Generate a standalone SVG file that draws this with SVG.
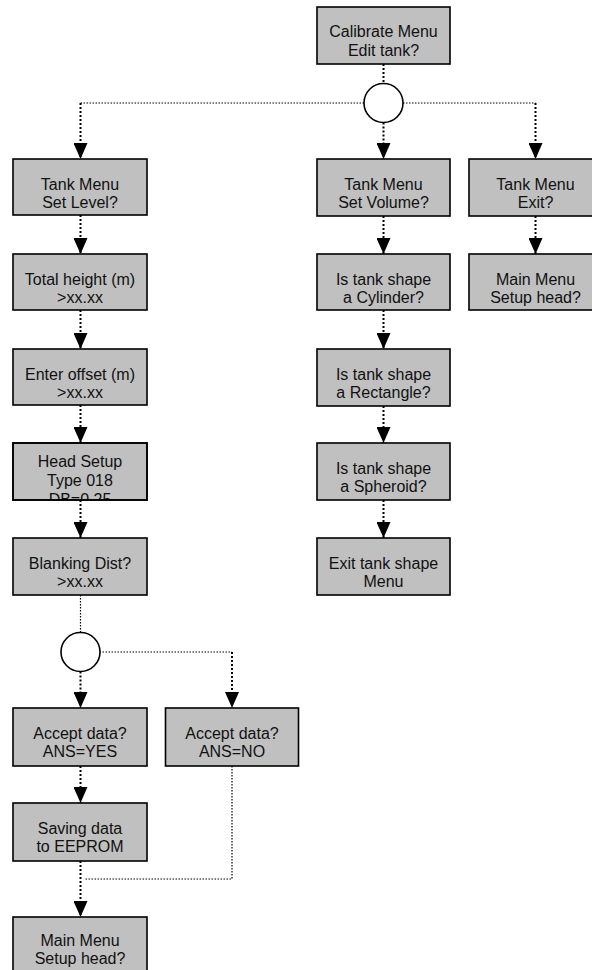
<svg xmlns="http://www.w3.org/2000/svg" width="592" height="970" viewBox="0 0 592 970">
  <defs>
    <style>
      .box { fill: #c0c0c0; stroke: #000; stroke-width: 1.6; }
      .lbl { font-family: "Liberation Sans", Arial, sans-serif; font-size: 16px; fill: #111; text-anchor: middle; }
      .join { fill: #fff; stroke: #000; stroke-width: 1.6; }
      .v { fill: none; stroke: #000; stroke-width: 2; stroke-dasharray: 2 2; }
      .h { fill: none; stroke: #000; stroke-width: 1.2; stroke-dasharray: 1.5 1.5; }
    </style>
    <marker id="arrow" viewBox="0 0 16 14" refX="16" refY="7" markerWidth="16" markerHeight="14" markerUnits="userSpaceOnUse" orient="auto">
      <path d="M0,0 L16,7 L0,14 z" fill="#000"/>
    </marker>
    <clipPath id="clipHead">
      <rect x="13" y="443" width="134" height="57"/>
    </clipPath>
  </defs>

  <!-- connectors -->
  <g id="connectors">
    <!-- top menu to first junction -->
    <path class="v" d="M383.5,64 V83.5"/>
    <path class="v" d="M383.5,122.5 V159" marker-end="url(#arrow)"/>
    <path class="h" d="M364,103 H80.5"/>
    <path class="v" d="M80.5,103 V159" marker-end="url(#arrow)"/>
    <path class="h" d="M403,103 H535.5"/>
    <path class="v" d="M535.5,103 V159" marker-end="url(#arrow)"/>

    <!-- level branch -->
    <path class="v" d="M80.5,215 V254" marker-end="url(#arrow)"/>
    <path class="v" d="M80.5,310 V349" marker-end="url(#arrow)"/>
    <path class="v" d="M80.5,405 V443" marker-end="url(#arrow)"/>
    <path class="v" d="M80.5,500 V538" marker-end="url(#arrow)"/>
    <path class="h" d="M80.5,595 V632.5"/>
    <path class="v" d="M80.5,671.5 V708" marker-end="url(#arrow)"/>
    <path class="h" d="M99.5,652 H232"/>
    <path class="v" d="M232,652 V708" marker-end="url(#arrow)"/>
    <path class="v" d="M80.5,766 V803" marker-end="url(#arrow)"/>
    <path class="h" d="M232,766 V879 H85"/>
    <path class="v" d="M80.5,861 V917" marker-end="url(#arrow)"/>

    <!-- volume branch -->
    <path class="v" d="M383.5,216 V254" marker-end="url(#arrow)"/>
    <path class="v" d="M383.5,310 V349" marker-end="url(#arrow)"/>
    <path class="v" d="M383.5,406 V443" marker-end="url(#arrow)"/>
    <path class="v" d="M383.5,500 V538" marker-end="url(#arrow)"/>

    <!-- exit branch -->
    <path class="v" d="M535.5,216 V254" marker-end="url(#arrow)"/>
  </g>

  <!-- junctions -->
  <g id="junction-top"><circle class="join" cx="383.5" cy="103" r="19.5"/></g>
  <g id="junction-accept"><circle class="join" cx="80.5" cy="652" r="19.5"/></g>

  <!-- nodes -->
  <g id="calibrate-menu">
    <rect class="box" x="317" y="7" width="133" height="57"/>
    <text class="lbl" x="383.5" y="37">Calibrate Menu</text>
    <text class="lbl" x="383.5" y="56">Edit tank?</text>
  </g>

  <g id="set-level">
    <rect class="box" x="13" y="159" width="134" height="56"/>
    <text class="lbl" x="80" y="190">Tank Menu</text>
    <text class="lbl" x="80" y="208">Set Level?</text>
  </g>
  <g id="total-height">
    <rect class="box" x="13" y="254" width="134" height="56"/>
    <text class="lbl" x="80" y="285">Total height (m)</text>
    <text class="lbl" x="80" y="303">&gt;xx.xx</text>
  </g>
  <g id="enter-offset">
    <rect class="box" x="13" y="349" width="134" height="56"/>
    <text class="lbl" x="80" y="380">Enter offset (m)</text>
    <text class="lbl" x="80" y="398">&gt;xx.xx</text>
  </g>
  <g id="head-setup">
    <rect class="box" x="13" y="443" width="134" height="57"/>
    <g clip-path="url(#clipHead)">
      <text class="lbl" x="80" y="467">Head Setup</text>
      <text class="lbl" x="80" y="486">Type 018</text>
      <text class="lbl" x="80" y="505">DB=0.25</text>
    </g>
    <rect x="13" y="443" width="134" height="57" fill="none" stroke="#000" stroke-width="1.6"/>
  </g>
  <g id="blanking-dist">
    <rect class="box" x="13" y="538" width="134" height="57"/>
    <text class="lbl" x="80" y="569">Blanking Dist?</text>
    <text class="lbl" x="80" y="587">&gt;xx.xx</text>
  </g>
  <g id="accept-yes">
    <rect class="box" x="13" y="708" width="134" height="58"/>
    <text class="lbl" x="80" y="739">Accept data?</text>
    <text class="lbl" x="80" y="757">ANS=YES</text>
  </g>
  <g id="accept-no">
    <rect class="box" x="165.5" y="708" width="133" height="58"/>
    <text class="lbl" x="232" y="739">Accept data?</text>
    <text class="lbl" x="232" y="757">ANS=NO</text>
  </g>
  <g id="saving-data">
    <rect class="box" x="13" y="803" width="134" height="58"/>
    <text class="lbl" x="80" y="834">Saving data</text>
    <text class="lbl" x="80" y="852">to EEPROM</text>
  </g>
  <g id="main-menu-left">
    <rect class="box" x="13" y="917" width="134" height="60"/>
    <text class="lbl" x="80" y="946">Main Menu</text>
    <text class="lbl" x="80" y="964">Setup head?</text>
  </g>

  <g id="set-volume">
    <rect class="box" x="317" y="159" width="133" height="57"/>
    <text class="lbl" x="383.5" y="190">Tank Menu</text>
    <text class="lbl" x="383.5" y="208">Set Volume?</text>
  </g>
  <g id="shape-cylinder">
    <rect class="box" x="317" y="254" width="133" height="56"/>
    <text class="lbl" x="383.5" y="285">Is tank shape</text>
    <text class="lbl" x="383.5" y="303">a Cylinder?</text>
  </g>
  <g id="shape-rectangle">
    <rect class="box" x="317" y="349" width="133" height="57"/>
    <text class="lbl" x="383.5" y="380">Is tank shape</text>
    <text class="lbl" x="383.5" y="398">a Rectangle?</text>
  </g>
  <g id="shape-spheroid">
    <rect class="box" x="317" y="443" width="133" height="57"/>
    <text class="lbl" x="383.5" y="474">Is tank shape</text>
    <text class="lbl" x="383.5" y="492">a Spheroid?</text>
  </g>
  <g id="exit-shape">
    <rect class="box" x="317" y="538" width="133" height="57"/>
    <text class="lbl" x="383.5" y="569">Exit tank shape</text>
    <text class="lbl" x="383.5" y="587">Menu</text>
  </g>

  <g id="tank-exit">
    <rect class="box" x="469" y="159" width="133" height="57"/>
    <text class="lbl" x="535.5" y="190">Tank Menu</text>
    <text class="lbl" x="535.5" y="208">Exit?</text>
  </g>
  <g id="main-menu-right">
    <rect class="box" x="469" y="254" width="133" height="56"/>
    <text class="lbl" x="535.5" y="285">Main Menu</text>
    <text class="lbl" x="535.5" y="303">Setup head?</text>
  </g>
</svg>
